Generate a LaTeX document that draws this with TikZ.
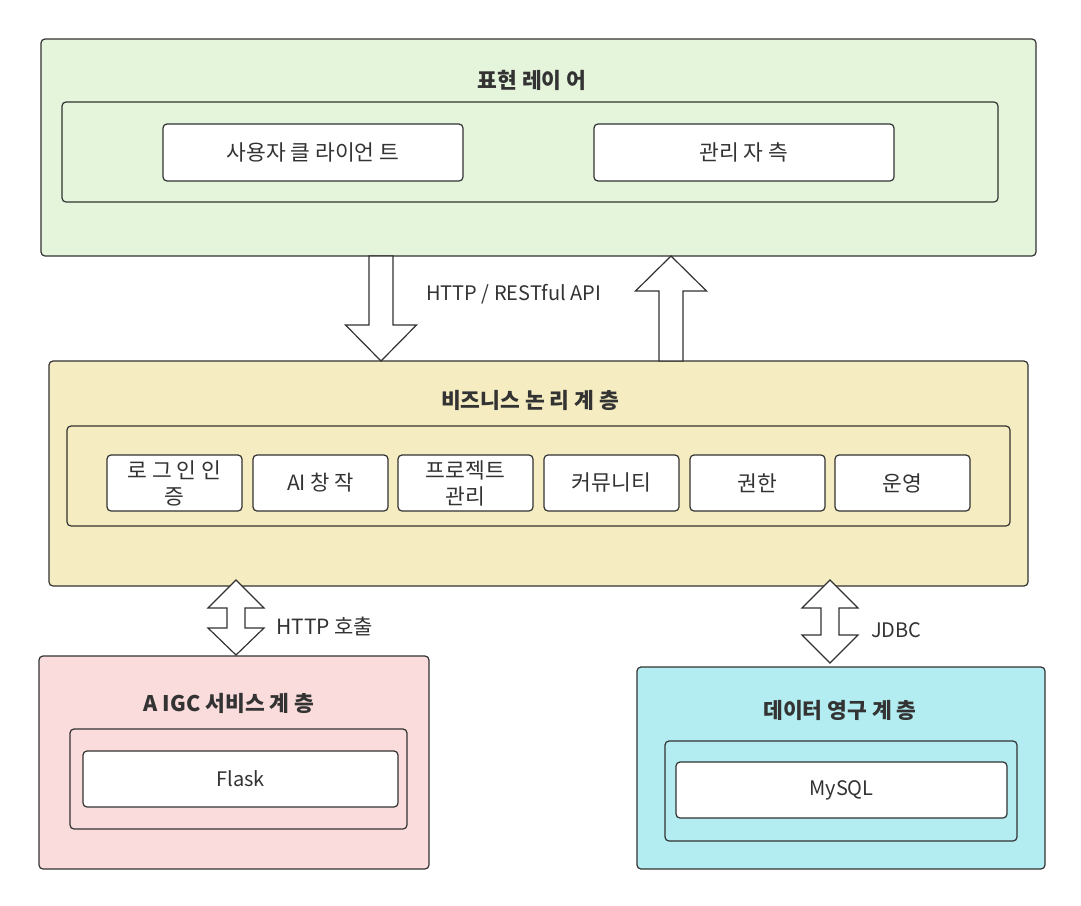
\documentclass[tikz,border=0pt]{standalone}
\usepackage{fontspec}
\setmainfont{Noto Sans CJK KR}
\usetikzlibrary{calc}
\definecolor{strokec}{HTML}{323232}
\definecolor{txt}{HTML}{333333}
\definecolor{gfill}{HTML}{E4F5DB}
\definecolor{yfill}{HTML}{F5EDC1}
\definecolor{pfill}{HTML}{F9DCDB}
\definecolor{cfill}{HTML}{B3EDF1}
\begin{document}
\begin{tikzpicture}[x=1pt,y=-1pt,
  frame/.style={draw=strokec, line width=1.2pt, rounded corners=4pt, anchor=north west, inner sep=0pt, outer sep=0pt},
  item/.style={frame, fill=white, text=txt, font=\fontsize{21.5}{26}\selectfont, align=center},
  latin/.style={font=\fontsize{20}{24}\selectfont},
  title/.style={text=txt, font=\bfseries\fontsize{21.5}{25}\selectfont},
  lbl/.style={text=txt, font=\fontsize{20}{24}\selectfont, anchor=west, inner sep=0pt},
  barrow/.style={draw=strokec, line width=1.2pt, fill=white, line join=miter}]
\useasboundingbox (0,0) rectangle (1081,905);
\fill[white] (0,0) rectangle (1081,905);

% Presentation layer
\node[frame, fill=gfill, minimum width=995, minimum height=217] (pres) at (41,39) {};
\node[title] (prest) at (532,80) {표현 레이 어};
\node[frame, fill=gfill, minimum width=936, minimum height=100] (presin) at (62,102) {};
\node[item, minimum width=300, minimum height=57] (client) at (163,124) {사용자 클 라이언 트};
\node[item, minimum width=300, minimum height=57] (admin) at (594,124) {관리 자 측};

% Business layer
\node[frame, fill=yfill, minimum width=979, minimum height=225] (biz) at (49,361) {};
\node[title] (bizt) at (530,400) {비즈니스 논 리 계 층};
\node[frame, fill=yfill, minimum width=943, minimum height=100] (bizin) at (67,426) {};
\node[item, minimum width=135, minimum height=56] (m1) at (107,455) {로 그 인 인\\증};
\node[item, minimum width=135, minimum height=56, font=\fontsize{21}{26}\selectfont] (m2) at (253,455) {AI 창 작};
\node[item, minimum width=135, minimum height=56] (m3) at (398,455) {프로젝트\\관리};
\node[item, minimum width=135, minimum height=56] (m4) at (544,455) {커뮤니티};
\node[item, minimum width=135, minimum height=56] (m5) at (690,455) {권한};
\node[item, minimum width=135, minimum height=56] (m6) at (835,455) {운영};

% AIGC layer
\node[frame, fill=pfill, minimum width=390, minimum height=213] (aigc) at (39,656) {};
\node[title] (aigct) at (229,703) {A IGC 서비스 계 층};
\node[frame, fill=pfill, minimum width=337, minimum height=100] (aigcin) at (70,729) {};
\node[item, latin, minimum width=315, minimum height=56] (flask) at (83,751) {Flask};

% Data layer
\node[frame, fill=cfill, minimum width=408, minimum height=202] (data) at (637,667) {};
\node[title] (datat) at (840,710) {데이터 영구 계 층};
\node[frame, fill=cfill, minimum width=352, minimum height=100] (datain) at (665,741) {};
\node[item, latin, minimum width=331, minimum height=56] (mysql) at (676,762) {MySQL};

% Arrows presentation <-> business
\coordinate (ds) at (381,0 |- pres.south);
\coordinate (dt) at (381,0 |- biz.north);
\draw[barrow] (dt) -- ++(35.5,-36) -- ++(-23.5,0) -- ($(ds)+(12,0)$) -- ($(ds)+(-12,0)$)
  -- ($(dt)+(-12,-36)$) -- ++(-23.5,0) -- cycle;
\coordinate (ut) at (671,0 |- pres.south);
\coordinate (ub) at (671,0 |- biz.north);
\draw[barrow] (ut) -- ++(35.5,35) -- ++(-23.5,0) -- ($(ub)+(12,0)$) -- ($(ub)+(-12,0)$)
  -- ($(ut)+(-12,35)$) -- ++(-23.5,0) -- cycle;
\node[lbl] (l1) at (426,294) {HTTP / RESTful API};

% Business <-> AIGC
\coordinate (h1t) at ($(236,0 |- biz.south)+(0,-6)$);
\coordinate (h1b) at ($(236,0 |- aigc.north)+(0,-1)$);
\draw[barrow] (h1t) -- ++(28,28) -- ++(-19,0) -- ($(h1b)+(9,-27)$) -- ++(19,0) -- (h1b)
  -- ++(-28,-27) -- ++(19,0) -- ($(h1t)+(-9,28)$) -- ++(-19,0) -- cycle;
\node[lbl, font=\fontsize{21}{24}\selectfont] (l2) at (276,626) {HTTP 호출};

% Business <-> Data
\coordinate (h2t) at ($(830,0 |- biz.south)+(0,-6)$);
\coordinate (h2b) at ($(830,0 |- data.north)+(0,-4)$);
\draw[barrow] (h2t) -- ++(28,28) -- ++(-19,0) -- ($(h2b)+(9,-28)$) -- ++(19,0) -- (h2b)
  -- ++(-28,-28) -- ++(19,0) -- ($(h2t)+(-9,28)$) -- ++(-19,0) -- cycle;
\node[lbl] (l3) at (871,630) {JDBC};
\end{tikzpicture}
\end{document}
